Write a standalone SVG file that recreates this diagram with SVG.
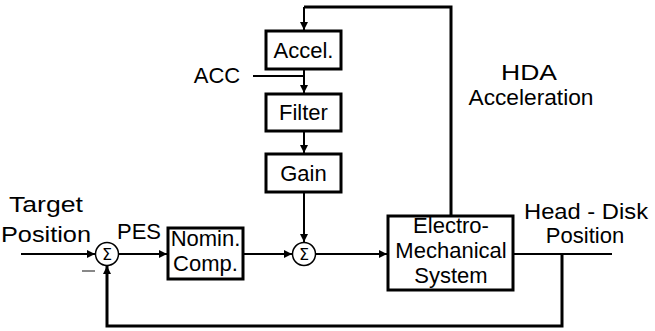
<svg xmlns="http://www.w3.org/2000/svg" width="655" height="331" viewBox="0 0 655 331">
<style>
text{font-family:"Liberation Sans",Arial,sans-serif;font-size:22px;fill:#000;text-anchor:middle}
.box{fill:#fff;stroke:#000;stroke-width:3}
.ln{fill:none;stroke:#000;stroke-width:2}
.thk{fill:none;stroke:#000;stroke-width:3}
.sum{fill:#fff;stroke:#000;stroke-width:1.5}
.sig{font-family:"DejaVu Sans",sans-serif;font-size:16px}
</style>
<defs>
<marker id="ah" markerUnits="userSpaceOnUse" markerWidth="9" markerHeight="8" refX="8" refY="4" orient="auto">
<path d="M0,0 L8,4 L0,8 z" fill="#000"/>
</marker>
</defs>
<rect width="655" height="331" fill="#fff"/>
<g id="connectors">
<path class="ln" d="M21,254 H95" marker-end="url(#ah)"/>
<path class="ln" d="M118.5,254 H167" marker-end="url(#ah)"/>
<path class="ln" d="M243,254 H292" marker-end="url(#ah)"/>
<path class="ln" d="M315.5,254 H387" marker-end="url(#ah)"/>
<path class="ln" d="M513,254 H612"/>
<path class="thk" d="M562,254 V326 H107 V266" marker-end="url(#ah)"/>
<path class="thk" d="M451,216 V7 H304"/>
<path class="ln" d="M304,7 V30" marker-end="url(#ah)"/>
<path class="ln" d="M304,69 V93" marker-end="url(#ah)"/>
<path class="ln" d="M253,76 H304"/>
<path class="ln" d="M304,131 V153" marker-end="url(#ah)"/>
<path class="ln" d="M304,192 V242" marker-end="url(#ah)"/>
<line x1="82" y1="271" x2="95" y2="271" stroke="#888" stroke-width="2"/>
</g>
<g id="sum1">
<circle class="sum" cx="107" cy="254" r="11.5"/>
<text class="sig" x="107" y="259.5">Σ</text>
</g>
<g id="sum2">
<circle class="sum" cx="304" cy="254" r="11.5"/>
<text class="sig" x="304" y="259.5">Σ</text>
</g>
<g id="accel">
<rect class="box" x="266" y="31" width="75" height="38"/>
<text x="303.5" y="58">Accel.</text>
</g>
<g id="filter">
<rect class="box" x="266" y="94" width="75" height="37"/>
<text x="303.5" y="120">Filter</text>
</g>
<g id="gain">
<rect class="box" x="266" y="154" width="75" height="38"/>
<text x="303.5" y="181">Gain</text>
</g>
<g id="nomin">
<rect class="box" x="168" y="228" width="75" height="51"/>
<text x="205.5" y="246">Nomin.</text>
<text x="205.5" y="271">Comp.</text>
</g>
<g id="ems">
<rect class="box" x="388" y="216" width="125" height="74"/>
<text x="451" y="233">Electro-</text>
<text x="451" y="258">Mechanical</text>
<text x="451" y="283">System</text>
</g>
<g id="labels">
<text x="46" y="212" textLength="74" lengthAdjust="spacingAndGlyphs">Target</text>
<text x="46" y="242" textLength="90" lengthAdjust="spacingAndGlyphs">Position</text>
<text x="139" y="239">PES</text>
<text x="217" y="83">ACC</text>
<text x="529" y="80" textLength="56" lengthAdjust="spacingAndGlyphs">HDA</text>
<text x="531" y="105" textLength="125" lengthAdjust="spacingAndGlyphs">Acceleration</text>
<text x="586" y="219" textLength="124" lengthAdjust="spacingAndGlyphs">Head - Disk</text>
<text x="585" y="243">Position</text>
</g>
</svg>
